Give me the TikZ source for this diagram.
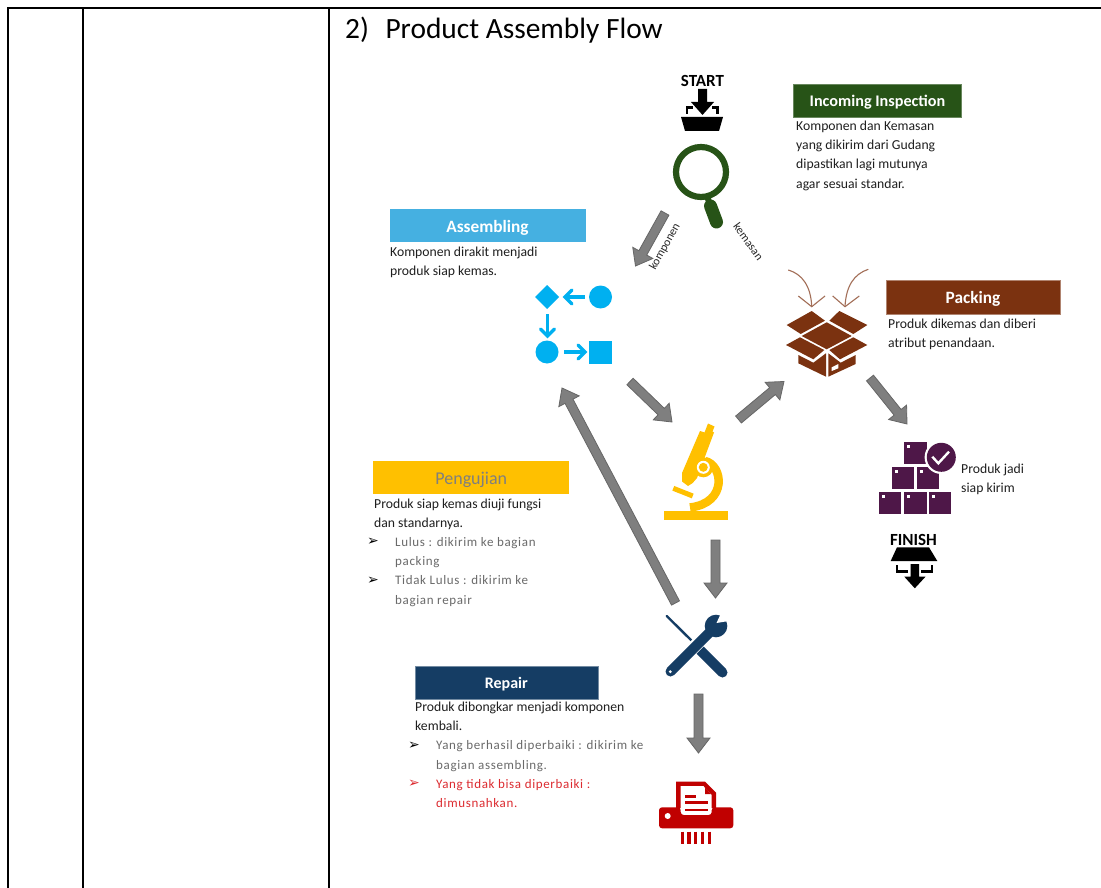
\documentclass[tikz,border=0pt]{standalone}
\usepackage{fontspec}
\setmainfont{Carlito}
\newfontfamily\spacedfont[LetterSpace=5]{Carlito}
\newfontfamily\symfont{DejaVu Sans}
\usetikzlibrary{calc,arrows.meta}
\definecolor{arrowgray}{HTML}{7F7F7F}
\definecolor{arrowedge}{HTML}{666666}
\definecolor{insp}{HTML}{275317}
\definecolor{asm}{HTML}{45B0E1}
\definecolor{flow}{HTML}{00B0F0}
\definecolor{amber}{HTML}{FFC000}
\definecolor{navy}{HTML}{153D64}
\definecolor{brown}{HTML}{7B3210}
\definecolor{plum}{HTML}{4E1748}
\definecolor{shred}{HTML}{C00000}
\definecolor{graytxt}{HTML}{6A6A6A}
\definecolor{redtxt}{HTML}{DC2B30}
\tikzset{
  x=1pt,y=-1pt,
  tableline/.style={line width=2,black},
  header/.style={minimum height=33,inner sep=0,text height=13,text depth=0,font=\fontsize{17.3}{18}\selectfont\bfseries,text=white},
  body/.style={anchor=west,inner sep=0,align=left,text=black!88,font=\fontsize{13.7}{19.2}\selectfont},
  grayitem/.style={anchor=west,inner sep=0,align=left,text=graytxt,font=\fontsize{13}{19.3}\spacedfont},
  reditem/.style={grayitem,text=redtxt},
  bulletmark/.style={anchor=center,inner sep=0,font=\fontsize{14}{14}\symfont},
  caplabel/.style={inner sep=0,font=\fontsize{17}{18}\selectfont\bfseries,text=black},
  sidelabel/.style={inner sep=0,font=\fontsize{11.8}{13}\selectfont,text=black!85},
  blockarrow/.style={fill=arrowgray,draw=arrowedge,line width=.8,line join=miter},
}
\newcommand{\blockarrow}[2]{%
  \coordinate (neck) at ($(#2)!15pt!(#1)$);
  \draw[blockarrow] ($(#1)!4.5pt!90:(#2)$) -- ($(neck)!4.5pt!90:(#2)$) -- ($(neck)!11.5pt!90:(#2)$) -- (#2)
    -- ($(neck)!11.5pt!-90:(#2)$) -- ($(neck)!4.5pt!-90:(#2)$) -- ($(#1)!4.5pt!-90:(#2)$) -- cycle;}
\newcommand{\crate}[2]{%
  \fill[plum] (#1,#2) rectangle ++(22.3,21.8);
  \fill[white] (#1+3,#2+3) rectangle ++(3,3);}
\begin{document}
\begin{tikzpicture}
\useasboundingbox (0,0) rectangle (1101,888);
\fill[white] (0,0) rectangle (1101,888);
% table
\coordinate (tl) at (8,8.5); \coordinate (tr) at (1101,8.5);
\draw[tableline] (tl) -- (tr);
\draw[tableline] (8,7.5) -- (8,888);
\draw[tableline] (83,8.5) -- (83,888);
\draw[tableline] (329,8.5) -- (329,888);
\node[anchor=west,inner sep=0,font=\fontsize{29.4}{32}\selectfont,text=black] (title) at (345,30) {2)\hspace{16.5pt}Product Assembly Flow};

% START
\node[caplabel] (start) at (702.5,81) {START};
\fill[black] (698,89) -- (707,89) -- (707,102) -- (714,102) -- (702.5,115) -- (691,102) -- (698,102) -- cycle;
\draw[black,line width=2.4] (687,114) -- (687,107.5) -- (693,107.5);
\draw[black,line width=2.4] (717.5,114) -- (717.5,107.5) -- (711.5,107.5);
\fill[black] (681,117) -- (723,117) -- (719,131) -- (685,131) -- cycle;

% magnifier
\draw[insp,line width=6.2] (701,172) circle (25);
\draw[insp,line width=6,line cap=butt] (707,196) -- (710,205);
\draw[insp,line width=13,line cap=round] (710.5,206) -- (716.5,222);

% incoming inspection
\node[header,fill=insp,draw=insp!70!white,line width=.5,minimum width=168,font=\fontsize{16.2}{18}\selectfont\bfseries] (inh) at (877.5,100.3) {Incoming Inspection};
\node[body] (inb) at (796,155.5) {\strut Komponen dan Kemasan\\yang dikirim dari Gudang\\dipastikan lagi mutunya\\agar sesuai standar.\strut};

% assembling
\node[header,fill=asm,minimum width=196] (ash) at (487.5,225.7) {Assembling};
\node[body] (asb) at (390,262.5) {\strut Komponen dirakit menjadi\\produk siap kemas.\strut};
\fill[flow] (547,285) -- (559,297) -- (547,309) -- (535,297) -- cycle;
\fill[flow] (600.5,297) circle (11.5);
\fill[flow] (547,352) circle (11.5);
\fill[flow] (589,341) rectangle (612,363.5);
\draw[flow,line width=3.4] (584.5,297) -- (565,297);
\draw[flow,line width=3.4,line cap=round] (572,290) -- (565,297) -- (572,304);
\draw[flow,line width=3.4] (547.5,314) -- (547.5,336);
\draw[flow,line width=3.4,line cap=round] (540.5,329) -- (547.5,336) -- (554.5,329);
\draw[flow,line width=3.4] (564,352) -- (585,352);
\draw[flow,line width=3.4,line cap=round] (578,345) -- (585,352) -- (578,359);

% microscope
\fill[amber] (664,511) rectangle (728,520);
\fill[amber] (708,423.5) -- (714.5,426.5) -- (712.5,431.5) -- (714,432.5) -- (697,478) -- (692.7,483) -- (688,486) -- (682,481.5) -- (682,473) -- (700,431) -- (704.5,432.5) -- cycle;
\draw[amber,line width=5,line cap=butt] (673.3,488.3) -- (692.7,496);
\draw[amber,line width=8.5,line cap=butt] (705,461) .. controls (723,465) and (728,503) .. (690,507.5);
\fill[amber] (703.3,467.3) circle (10);
\fill[white] (703.3,467.3) circle (6.5);
\fill[amber] (703.3,467.3) circle (4.5);

% pengujian
\node[header,fill=amber,minimum width=196,text=arrowgray,font=\fontsize{18}{18}\selectfont] (peh) at (471.3,477.5) {Pengujian};
\node[body] (peb) at (374,514.5) {\strut Produk siap kemas diuji fungsi\\dan standarnya.\strut};
\node[bulletmark] (pe1m) at (373,541.5) {➢};
\node[grayitem] (pe1) at (395,552) {\strut Lulus : dikirim ke bagian\\packing\strut};
\node[bulletmark] (pe2m) at (373,580.5) {➢};
\node[grayitem] (pe2) at (395,590.5) {\strut Tidak Lulus : dikirim ke\\bagian repair\strut};

% packing
\draw[brown!70!white,line width=1.1] (788.3,270) .. controls (802,274) and (811,286) .. (811.7,306.7);
\draw[brown!70!white,line width=1.1] (798.3,296) -- (811.7,306.7) -- (825,296);
\draw[brown!70!white,line width=1.1] (868.3,269.3) .. controls (854,274) and (846,286) .. (845,306.7);
\draw[brown!70!white,line width=1.1] (832.7,296) -- (845,306.7) -- (859.3,296);
\fill[brown] (811.7,311) -- (825,320.7) -- (800.7,334) -- (786.7,325) -- cycle;
\fill[brown] (839.3,311) -- (867.3,325) -- (853.3,334) -- (829.3,320.7) -- cycle;
\fill[brown] (826.7,322.3) -- (851.7,336) -- (826.7,349.3) -- (801.7,336) -- cycle;
\fill[brown] (800,337.3) -- (824.3,350) -- (813.3,359.3) -- (786,345) -- cycle;
\fill[brown] (853.3,337.3) -- (867.3,345) -- (840,359.3) -- (829.3,350) -- cycle;
\fill[brown] (798.3,355) -- (813.3,362.7) -- (826,353.3) -- (826,376.7) -- (798.3,363.3) -- cycle;
\fill[brown] (828.3,353.3) -- (840.7,362.7) -- (855.7,355) -- (855.7,364) -- (828.3,376.7) -- cycle;
\fill[white] (831.7,367.3) -- (838.3,364) -- (838.3,368.3) -- (831.7,371) -- cycle;
\node[header,fill=brown,draw=brown!60!white,line width=.5,minimum width=174,minimum height=34] (pah) at (973,297) {Packing};
\node[body] (pab) at (888,334) {\strut Produk dikemas dan diberi\\atribut penandaan.\strut};

% finished goods
\crate{904.3}{442.3}
\crate{891.7}{467.3}
\crate{916.7}{467.3}
\crate{879}{492.3}
\crate{904.3}{492.3}
\crate{928.7}{492.3}
\fill[white] (941.3,457.3) circle (16.7);
\fill[plum] (941.3,457.3) circle (14.5);
\draw[white,line width=2.4] (932.3,456.7) -- (938.3,463.3) -- (949,451.7);
\node[body] (god) at (961,479.5) {\strut Produk jadi\\siap kirim\strut};

% FINISH
\node[caplabel] (finish) at (913.5,539.5) {FINISH};
\fill[black] (897,547.3) -- (929,547.3) -- (937.3,561) -- (890.7,561) -- cycle;
\draw[black,line width=2.4] (896.7,565) -- (896.7,571.5) -- (908,571.5);
\draw[black,line width=2.4] (931.7,565) -- (931.7,571.5) -- (921,571.5);
\fill[black] (910.7,564) -- (919,564) -- (919,576.7) -- (925.5,576.7) -- (914.8,588.3) -- (904.3,576.7) -- (910.7,576.7) -- cycle;

% tools
\draw[navy,line width=2.4,line cap=round] (666.7,616) -- (692,641);
\draw[navy,line width=10,line cap=round] (698,648) -- (722.5,672.5);
\draw[white,line width=13] (680,661) -- (700,641);
\draw[navy,line width=10,line cap=round] (670.5,671.5) -- (709,633);
\fill[navy] (716,626) circle (11.3);
\fill[white] (716.5,623) -- (722,611) -- (735,620) -- cycle;
\fill[white] (670.3,671.7) circle (1.6);

% repair
\node[header,fill=navy,draw=navy!60!white,line width=.5,minimum width=183,font=\fontsize{16}{18}\selectfont\bfseries] (reh) at (506.3,682.3) {Repair};
\node[body] (reb) at (415,717) {\strut Produk dibongkar menjadi komponen\\kembali.\strut};
\node[bulletmark] (re1m) at (414,746) {➢};
\node[grayitem] (re1) at (436,755.5) {\strut Yang berhasil diperbaiki : dikirim ke\\bagian assembling.\strut};
\node[bulletmark,text=redtxt] (re2m) at (414,784) {➢};
\node[reditem] (re2) at (436,794) {\strut Yang tidak bisa diperbaiki :\\dimusnahkan.\strut};

% shredder
\fill[shred] (676,781.7) -- (705,781.7) -- (716,792.7) -- (716,808) -- (676,808) -- cycle;
\fill[white] (680.7,786) -- (703.3,786) -- (711.7,795) -- (711.7,815) -- (680.7,815) -- cycle;
\fill[shred,rounded corners=3] (659,807.3) -- (680.7,807.3) -- (680.7,815) -- (711.7,815) -- (711.7,807.3) -- (733.3,807.3) -- (733.3,828.3) -- (659,828.3) -- cycle;
\fill[shred] (705,787.5) -- (711,794) -- (705,794) -- cycle;
\fill[white] (667.7,816) circle (3);
\draw[shred,line width=2.6] (685,796.7) -- (696,796.7);
\draw[shred,line width=2.6] (685,802.7) -- (708.3,802.7);
\draw[shred,line width=2.6] (685,810) -- (708.3,810);
\foreach \sx in {682.3,689,695.7,702.3,709.3}
  \draw[shred,line width=3.2] (\sx,831.7) -- (\sx,844.3);

% connectors
\coordinate (a1s) at (665,213); \coordinate (a1e) at (635.5,266);
\coordinate (a2s) at (630,381.5); \coordinate (a2e) at (672,422);
\coordinate (a3s) at (738.5,419.5); \coordinate (a3e) at (784,381.5);
\coordinate (a4s) at (870,378); \coordinate (a4e) at (907,424);
\coordinate (a5s) at (715.5,540); \coordinate (a5e) at (715.5,598);
\coordinate (a6s) at (675.5,603); \coordinate (a6e) at (562,388);
\coordinate (a7s) at (698.5,694); \coordinate (a7e) at (698.5,753);
\blockarrow{a1s}{a1e}
\blockarrow{a2s}{a2e}
\blockarrow{a3s}{a3e}
\blockarrow{a4s}{a4e}
\blockarrow{a5s}{a5e}
\blockarrow{a6s}{a6e}
\blockarrow{a7s}{a7e}
\node[sidelabel,rotate=61] (komp) at (665,246.5) {komponen};
\node[sidelabel,rotate=-54] (kema) at (748.5,241.5) {kemasan};
\end{tikzpicture}
\end{document}
